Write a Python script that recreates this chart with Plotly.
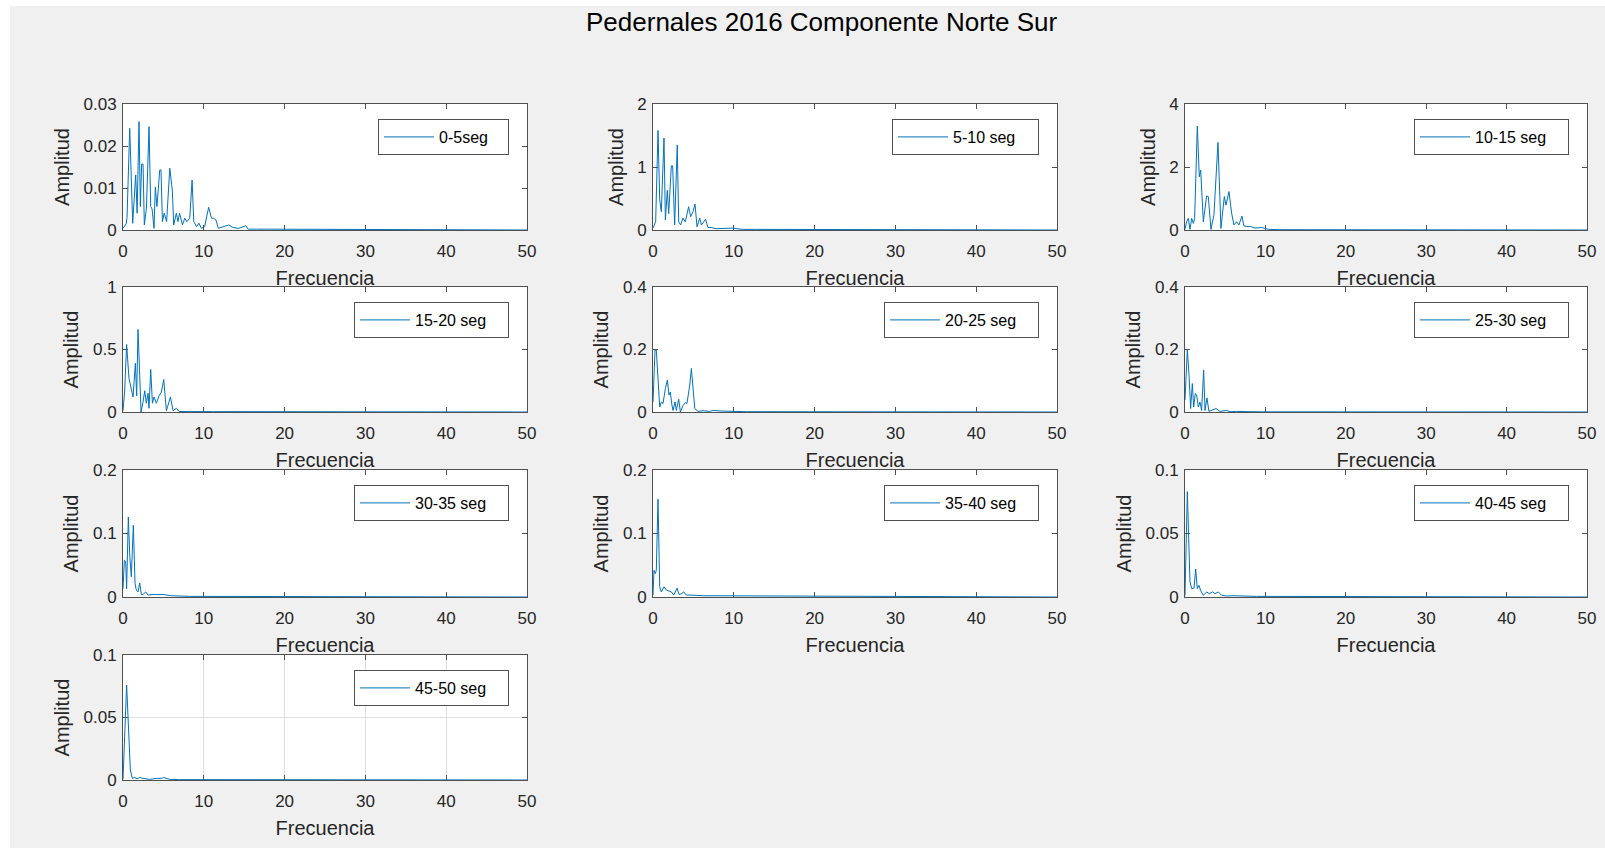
import plotly.graph_objects as go

# ---- data -------------------------------------------------------------
TITLE = "Pedernales 2016 Componente Norte Sur"
X_LABEL = "Frecuencia"
Y_LABEL = "Amplitud"

window_labels = ["0-5seg", "5-10 seg", "10-15 seg", "15-20 seg", "20-25 seg",
                 "25-30 seg", "30-35 seg", "35-40 seg", "40-45 seg", "45-50 seg"]

freq_0_5 = [0.0, 0.4, 0.5, 0.83, 1.2, 1.57, 1.75, 1.98, 2.15, 2.31, 2.48, 2.64, 2.9, 3.22,
            3.43, 3.6, 3.84, 4.0, 4.2, 4.55, 4.7, 4.88, 5.1, 5.4, 5.79, 6.1, 6.28, 6.6,
            6.8, 7.0, 7.36, 7.64, 7.9, 8.26, 8.55, 8.76, 9.1, 9.4, 9.7, 10.1, 10.6,
            10.95, 11.2, 11.5, 11.8, 12.2, 12.6, 13.1, 13.6, 14.3, 15.2, 15.5, 16.5,
            17.8, 50.0]
amp_0_5 = [0.0004, 0.0015, 0.003, 0.0242, 0.0016, 0.0131, 0.004, 0.0258, 0.0056, 0.0157,
           0.0157, 0.0012, 0.0052, 0.0246, 0.0056, 0.005, 0.0004, 0.0102, 0.0056, 0.0143,
           0.0143, 0.002, 0.004, 0.002, 0.0147, 0.0095, 0.0012, 0.004, 0.002, 0.004,
           0.0012, 0.0028, 0.002, 0.0028, 0.0119, 0.002, 0.0008, 0.0016, 0.0004, 0.0008,
           0.0054, 0.0028, 0.0028, 0.0024, 0.0004, 0.0006, 0.0008, 0.0012, 0.0006,
           0.0004, 0.001, 0.0002, 0.0002, 0.0002, 0.0]

freq_5_10 = [0.0, 0.33, 0.62, 0.83, 1.03, 1.36, 1.53, 1.77, 1.94, 2.27, 2.43, 2.68, 3.0,
             3.18, 3.42, 3.7, 4.0, 4.41, 4.66, 4.95, 5.2, 5.45, 5.78, 6.0, 6.5, 6.8, 7.2,
             7.8, 9.8, 11.1, 12.8, 50.0]
amp_5_10 = [0.03, 0.13, 1.58, 0.48, 0.29, 1.46, 0.16, 0.63, 0.26, 1.02, 1.02, 0.08, 1.35,
            0.13, 0.08, 0.19, 0.13, 0.37, 0.21, 0.29, 0.41, 0.05, 0.19, 0.08, 0.17, 0.04,
            0.04, 0.02, 0.03, 0.01, 0.01, 0.0]

freq_10_15 = [0.0, 0.2, 0.41, 0.62, 0.83, 1.04, 1.2, 1.53, 1.78, 1.95, 2.28, 2.69, 2.9,
              3.23, 3.6, 4.1, 4.47, 4.89, 5.1, 5.47, 5.8, 6.09, 6.42, 6.71, 7.08, 7.33,
              7.66, 8.16, 8.7, 9.53, 10.4, 11.8, 50.0]
amp_10_15 = [0.02, 0.26, 0.37, 0.02, 0.37, 0.21, 0.37, 3.3, 1.69, 1.9, 0.26, 1.08, 1.06,
             0.02, 0.48, 2.78, 0.05, 1.06, 0.79, 1.22, 0.53, 0.16, 0.26, 0.16, 0.44, 0.13,
             0.11, 0.11, 0.06, 0.08, 0.02, 0.01, 0.0]

freq_15_20 = [0.0, 0.2, 0.45, 0.74, 1.24, 1.53, 1.69, 1.86, 2.07, 2.23, 2.48, 2.69, 2.89,
              3.1, 3.22, 3.43, 3.64, 3.84, 4.13, 4.46, 4.75, 5.04, 5.37, 5.58, 5.87, 6.2,
              6.61, 6.94, 7.85, 9.5, 11.2, 50.0]
amp_15_20 = [0.01, 0.16, 0.54, 0.27, 0.12, 0.39, 0.13, 0.66, 0.29, 0.0, 0.08, 0.17, 0.07,
             0.15, 0.03, 0.34, 0.07, 0.12, 0.07, 0.13, 0.16, 0.26, 0.01, 0.05, 0.12, 0.01,
             0.03, 0.004, 0.005, 0.005, 0.003, 0.0]

freq_20_25 = [0.0, 0.25, 0.41, 0.62, 0.83, 1.03, 1.24, 1.53, 1.78, 1.98, 2.15, 2.31, 2.48,
              2.73, 2.89, 3.18, 3.39, 3.72, 4.0, 4.2, 4.55, 4.75, 4.96, 5.17, 5.58, 6.2,
              7.0, 7.44, 8.47, 9.9, 11.6, 50.0]
amp_20_25 = [0.032, 0.198, 0.198, 0.086, 0.016, 0.032, 0.027, 0.075, 0.102, 0.054, 0.064,
             0.027, 0.005, 0.032, 0.005, 0.041, 0.0, 0.021, 0.03, 0.027, 0.086, 0.139,
             0.064, 0.011, 0.002, 0.004, 0.002, 0.005, 0.003, 0.002, 0.001, 0.0]

freq_25_30 = [0.0, 0.29, 0.5, 0.7, 0.91, 1.08, 1.28, 1.45, 1.66, 1.86, 2.07, 2.32, 2.49,
              2.73, 2.98, 3.31, 3.85, 4.35, 5.18, 5.6, 6.42, 8.08, 9.7, 50.0]
amp_25_30 = [0.038, 0.2, 0.118, 0.011, 0.091, 0.016, 0.059, 0.054, 0.016, 0.032, 0.005,
             0.134, 0.005, 0.045, 0.002, 0.005, 0.011, 0.002, 0.005, 0.001, 0.002, 0.001,
             0.0005, 0.0]

freq_30_35 = [0.0, 0.17, 0.33, 0.45, 0.66, 0.83, 1.03, 1.28, 1.49, 1.65, 1.86, 2.07, 2.27,
              2.48, 2.81, 3.1, 3.72, 4.34, 4.96, 6.0, 8.26, 50.0]
amp_30_35 = [0.013, 0.058, 0.056, 0.013, 0.126, 0.066, 0.032, 0.113, 0.021, 0.011, 0.008,
             0.022, 0.004, 0.004, 0.008, 0.003, 0.004, 0.004, 0.004, 0.002, 0.001, 0.0]

freq_35_40 = [0.0, 0.12, 0.29, 0.41, 0.62, 0.83, 1.03, 1.36, 1.65, 1.94, 2.27, 2.56, 2.98,
              3.22, 3.51, 3.8, 4.13, 4.75, 6.2, 50.0]
amp_35_40 = [0.003, 0.042, 0.037, 0.042, 0.154, 0.016, 0.008, 0.016, 0.011, 0.009, 0.008,
             0.003, 0.014, 0.004, 0.005, 0.008, 0.003, 0.003, 0.002, 0.0]

freq_40_45 = [0.0, 0.12, 0.29, 0.46, 0.62, 0.83, 1.12, 1.33, 1.53, 1.74, 1.95, 2.28, 2.69,
              3.02, 3.4, 3.73, 4.14, 4.56, 5.18, 6.0, 7.25, 8.9, 50.0]
amp_40_45 = [0.001, 0.046, 0.083, 0.046, 0.012, 0.0066, 0.007, 0.022, 0.0066, 0.0092,
             0.005, 0.0013, 0.004, 0.0026, 0.004, 0.0026, 0.004, 0.0013, 0.0008, 0.001,
             0.0008, 0.0005, 0.0]

freq_45_50 = [0.0, 0.21, 0.45, 0.66, 0.91, 1.16, 1.45, 1.74, 2.07, 2.48, 3.3, 4.13, 4.75,
              5.04, 5.79, 7.0, 50.0]
amp_45_50 = [0.0005, 0.032, 0.076, 0.045, 0.008, 0.0013, 0.002, 0.001, 0.002, 0.0013,
             0.0005, 0.0013, 0.0013, 0.002, 0.0005, 0.0003, 0.0]

frequencies = [freq_0_5, freq_5_10, freq_10_15, freq_15_20, freq_20_25,
               freq_25_30, freq_30_35, freq_35_40, freq_40_45, freq_45_50]
amplitudes = [amp_0_5, amp_5_10, amp_10_15, amp_15_20, amp_20_25,
              amp_25_30, amp_30_35, amp_35_40, amp_40_45, amp_45_50]

y_upper = [0.03, 2, 4, 1, 0.4, 0.4, 0.2, 0.2, 0.1, 0.1]
y_tick_values = [[0, 0.01, 0.02, 0.03], [0, 1, 2], [0, 2, 4], [0, 0.5, 1],
                 [0, 0.2, 0.4], [0, 0.2, 0.4], [0, 0.1, 0.2], [0, 0.1, 0.2],
                 [0, 0.05, 0.1], [0, 0.05, 0.1]]
y_tick_text = [["0", "0.01", "0.02", "0.03"], ["0", "1", "2"], ["0", "2", "4"],
               ["0", "0.5", "1"], ["0", "0.2", "0.4"], ["0", "0.2", "0.4"],
               ["0", "0.1", "0.2"], ["0", "0.1", "0.2"], ["0", "0.05", "0.1"],
               ["0", "0.05", "0.1"]]
x_tick_values = [0, 10, 20, 30, 40, 50]
x_tick_text = ["0", "10", "20", "30", "40", "50"]

# ---- styling / geometry ----------------------------------------------
W, H = 1605, 848
FONT = "Liberation Sans, Arial, Helvetica, sans-serif"
LINE_BLUE = "#0072BD"
AXIS_GRAY = "#505050"
TEXT_GRAY = "#262626"
FIG_BG = "#f0f0f0"

# pixel extents of the subplot grid (left, right) / (top, bottom)
col_px = [(123, 527), (653, 1057), (1185, 1587)]
row_px = [(104, 230), (287, 412), (470, 597), (655, 780)]


def px_x(v):
    return v / W


def px_y(v):
    return 1 - v / H


def legend_entry_width(label):
    # room for the label text plus a little trailing padding inside the box
    return 14 + 8.2 * len(label)


fig = go.Figure()
layout = dict(
    width=W, height=H,
    margin=dict(l=0, r=0, t=0, b=0, pad=0, autoexpand=False),
    paper_bgcolor=FIG_BG,
    plot_bgcolor="white",
    font=dict(family=FONT, color=TEXT_GRAY, size=17),
    showlegend=True,
)

for i, (fx, ay) in enumerate(zip(frequencies, amplitudes)):
    r, c = divmod(i, 3)
    n = "" if i == 0 else str(i + 1)
    legend_id = "legend" + n
    fig.add_trace(go.Scatter(
        x=fx, y=ay, mode="lines", name=window_labels[i],
        line=dict(color=LINE_BLUE, width=1),
        xaxis="x" + n, yaxis="y" + n, legend=legend_id,
    ))
    grid_on = (i == 9)
    common = dict(
        showline=True, linecolor=AXIS_GRAY, linewidth=1, mirror="ticks",
        ticks="inside", ticklen=5, tickcolor=AXIS_GRAY, tickwidth=1,
        zeroline=False, showgrid=grid_on, gridcolor="#dedede", gridwidth=1,
        tickfont=dict(size=17, color=TEXT_GRAY, family=FONT),
        layer="below traces", automargin=False,
    )
    layout["xaxis" + n] = dict(
        common, domain=[px_x(col_px[c][0]), px_x(col_px[c][1])],
        anchor="y" + n, range=[0, 50],
        tickmode="array", tickvals=x_tick_values, ticktext=x_tick_text,
        ticklabelstandoff=6,
        title=dict(text=X_LABEL, font=dict(size=20, color=TEXT_GRAY, family=FONT),
                   standoff=10),
    )
    layout["yaxis" + n] = dict(
        common, domain=[px_y(row_px[r][1]), px_y(row_px[r][0])],
        anchor="x" + n, range=[0, y_upper[i]],
        tickmode="array", tickvals=y_tick_values[i], ticktext=y_tick_text[i],
        ticklabelstandoff=2,
        title=dict(text=Y_LABEL, font=dict(size=20, color=TEXT_GRAY, family=FONT),
                   standoff=8),
    )
    layout[legend_id] = dict(
        x=px_x(col_px[c][1] - 18), xanchor="right",
        y=px_y(row_px[r][0] + 15), yanchor="top",
        orientation="h", entrywidth=legend_entry_width(window_labels[i]),
        bgcolor="white", bordercolor=AXIS_GRAY, borderwidth=1,
        font=dict(size=16, color="black", family=FONT),
        itemwidth=50,
    )

layout["annotations"] = [dict(
    text=TITLE, xref="paper", yref="paper", x=px_x(822), y=px_y(22),
    xanchor="center", yanchor="middle", showarrow=False,
    font=dict(size=26, color="black", family=FONT),
)]
layout["shapes"] = [
    dict(type="rect", xref="paper", yref="paper", x0=0, x1=px_x(10), y0=0, y1=1,
         fillcolor="white", line=dict(width=0), layer="above"),
    dict(type="rect", xref="paper", yref="paper", x0=0, x1=1, y0=px_y(6), y1=1,
         fillcolor="white", line=dict(width=0), layer="above"),
]

fig.update_layout(**layout)
fig.write_html("out.html")
